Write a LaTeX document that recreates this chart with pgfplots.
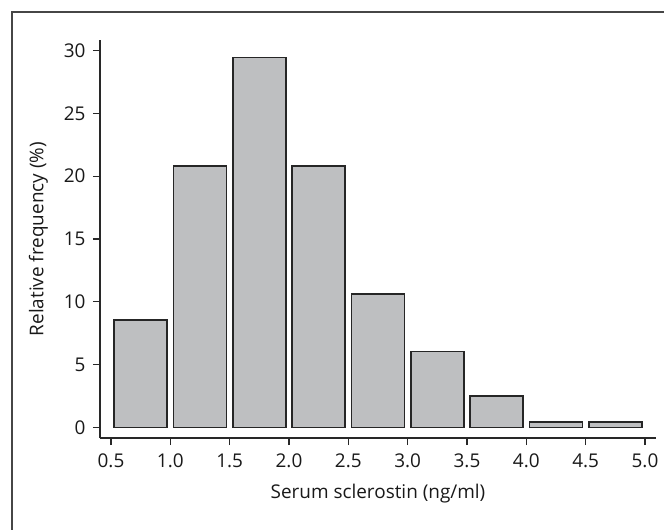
\documentclass[border=0pt]{standalone}
\usepackage{fontspec}
\setmainfont{Open Sans}
\usepackage{pgfplots}
\pgfplotsset{compat=1.18}
\definecolor{barfill}{RGB}{190,191,193}
\definecolor{framec}{RGB}{70,70,70}
\definecolor{axc}{RGB}{40,40,40}
\begin{document}
\fontsize{19}{22}\selectfont
\begin{tikzpicture}
\useasboundingbox (0bp,0bp) rectangle (664bp,-530bp);
\draw[line width=2bp, color=framec] (12bp,-600bp) -- (12bp,-12bp) -- (720bp,-12bp);
\begin{axis}[
  at={(100bp,-438bp)}, anchor=south west,
  scale only axis, width=556bp, height=398bp,
  xmin=0.4073, xmax=5.0927, ymin=-0.84, ymax=30.84,
  axis x line=bottom, axis y line=left,
  axis line style={line width=1.3bp, color=axc, -},
  tick align=outside, major tick length=7bp,
  tick style={line width=1.3bp, color=axc},
  xtick={0.5,1,1.5,2,2.5,3,3.5,4,4.5,5},
  xticklabels={0.5,1.0,1.5,2.0,2.5,3.0,3.5,4.0,4.5,5.0},
  ytick={0,5,10,15,20,25,30},
  /pgf/number format/assume math mode=true,
  ticklabel style={font=\fontsize{19}{22}\selectfont, text=black!90},
  xticklabel style={yshift=-2bp},
  yticklabel style={xshift=-1bp},
  xlabel={Serum sclerostin (ng/ml)},
  ylabel={Relative frequency (\%)},
  label style={font=\fontsize{19}{22}\selectfont, text=black!90},
  xlabel style={yshift=-4bp},
  ylabel style={yshift=3bp},
  ybar, bar width=0.447,
]
\addplot[ybar, bar shift=0pt, fill=barfill, draw=black!85, line width=1.7bp] coordinates {
(0.75,8.55) (1.25,20.8) (1.75,29.45) (2.25,20.8) (2.75,10.6) (3.25,6.05) (3.75,2.5) (4.25,0.45) (4.75,0.45)
};
\end{axis}
\end{tikzpicture}
\end{document}
